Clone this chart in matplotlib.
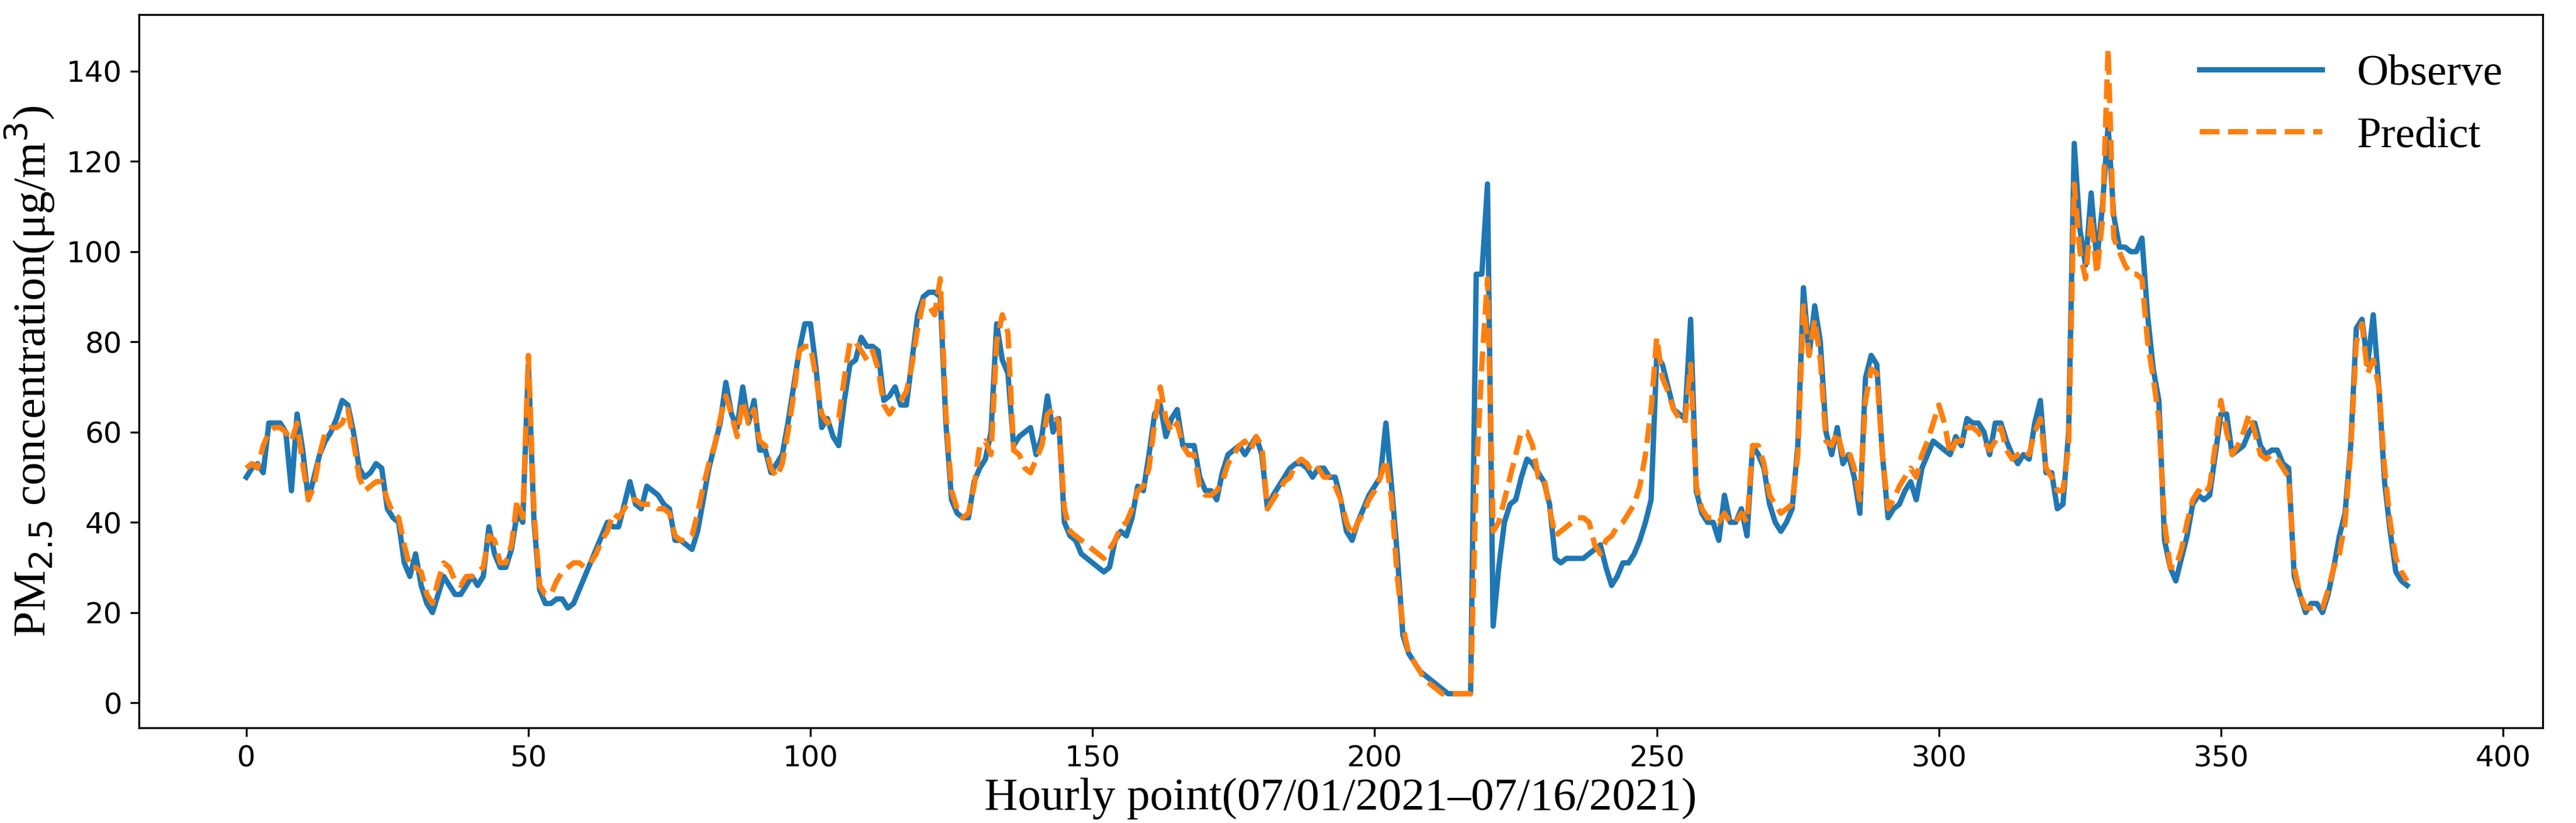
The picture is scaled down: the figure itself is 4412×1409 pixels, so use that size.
import numpy as np
import matplotlib.pyplot as plt

# DATA
observe = [50, 52, 53, 51, 62, 62, 62, 60, 47, 64,
           56, 45, 50, 55, 58, 60, 63, 67, 66, 60,
           52, 50, 51, 53, 52, 43, 41, 40, 31, 28,
           33, 26, 22, 20, 24, 28, 26, 24, 24, 26,
           28, 26, 28, 39, 33, 30, 30, 34, 42, 40,
           75, 40, 25, 22, 22, 23, 23, 21, 22, 25,
           28, 31, 34, 37, 40, 39, 39, 44, 49, 44,
           43, 48, 47, 46, 44, 43, 36, 36, 35, 34,
           38, 45, 52, 57, 62, 71, 64, 61, 70, 62,
           67, 56, 56, 51, 53, 55, 62, 70, 78, 84,
           84, 74, 61, 63, 59, 57, 67, 75, 76, 81,
           79, 79, 78, 67, 68, 70, 66, 66, 76, 86,
           90, 91, 91, 90, 62, 45, 42, 41, 41, 49,
           52, 54, 60, 84, 76, 73, 57, 59, 60, 61,
           55, 59, 68, 60, 63, 40, 37, 36, 33, 32,
           31, 30, 29, 30, 36, 38, 37, 41, 48, 47,
           55, 64, 66, 59, 63, 65, 57, 57, 57, 50,
           47, 47, 45, 51, 55, 56, 57, 55, 57, 59,
           55, 43, 46, 48, 50, 52, 53, 53, 52, 50,
           52, 52, 50, 50, 45, 38, 36, 40, 43, 46,
           48, 50, 62, 48, 33, 15, 11, 9, 7, 6,
           5, 4, 3, 2, 2, 2, 2, 2, 95, 95,
           115, 17, 30, 40, 44, 45, 50, 54, 53, 51,
           49, 44, 32, 31, 32, 32, 32, 32, 33, 34,
           35, 30, 26, 28, 31, 31, 33, 36, 40, 45,
           77, 75, 70, 65, 64, 63, 85, 47, 42, 40,
           40, 36, 46, 40, 40, 43, 37, 57, 55, 52,
           44, 40, 38, 40, 43, 57, 92, 77, 88, 80,
           60, 55, 61, 53, 55, 50, 42, 72, 77, 75,
           55, 41, 43, 44, 47, 49, 45, 52, 55, 58,
           57, 56, 55, 59, 57, 63, 62, 62, 60, 55,
           62, 62, 58, 55, 53, 55, 54, 62, 67, 51,
           51, 43, 44, 60, 124, 105, 97, 113, 98, 110,
           128, 108, 101, 101, 100, 100, 103, 86, 74, 67,
           36, 30, 27, 32, 37, 44, 46, 45, 46, 55,
           64, 64, 55, 56, 57, 60, 62, 57, 55, 56,
           56, 53, 52, 28, 24, 20, 22, 22, 20, 24,
           30, 37, 42, 57, 83, 85, 75, 86, 70, 49,
           38, 29, 27, 26]

predict = [52, 53, 52, 57, 60, 61, 61, 60, 58, 62,
           53, 45, 48, 55, 60, 61, 61, 62, 65, 58,
           50, 47, 48, 49, 49, 45, 42, 41, 35, 30,
           30, 29, 24, 22, 27, 31, 30, 27, 26, 28,
           28, 29, 30, 37, 36, 31, 31, 35, 45, 41,
           77, 42, 26, 24, 24, 27, 29, 30, 31, 31,
           30, 31, 33, 36, 38, 42, 41, 43, 45, 45,
           44, 44, 44, 43, 43, 42, 37, 36, 36, 37,
           42, 48, 53, 57, 63, 68, 64, 59, 67, 62,
           65, 58, 57, 52, 50, 53, 60, 68, 78, 79,
           79, 72, 64, 62, 63, 63, 72, 80, 80, 78,
           76, 78, 74, 66, 64, 66, 67, 69, 75, 83,
           89, 88, 86, 94, 64, 47, 43, 41, 42, 48,
           57, 58, 55, 80, 86, 82, 56, 55, 52, 51,
           54, 57, 64, 65, 62, 43, 38, 37, 36, 35,
           34, 33, 32, 34, 36, 39, 40, 43, 47, 48,
           52, 62, 70, 63, 60, 62, 57, 55, 55, 48,
           46, 46, 47, 49, 53, 55, 57, 58, 56, 59,
           57, 43, 45, 47, 49, 50, 53, 54, 53, 51,
           52, 50, 50, 48, 45, 40, 37, 40, 42, 45,
           47, 50, 54, 45, 28, 17, 11, 9, 7, 5,
           4, 3, 2, 2, 2, 2, 2, 2, 50, 75,
           94, 38, 40, 45, 50, 55, 60, 60, 57, 50,
           50, 43, 37, 38, 39, 40, 41, 41, 40, 35,
           33, 36, 37, 39, 40, 42, 44, 48, 55, 65,
           81, 72, 69, 65, 63, 62, 75, 48, 43, 41,
           41, 40, 42, 40, 40, 42, 40, 57, 57, 53,
           46, 44, 42, 43, 44, 55, 88, 77, 85, 76,
           58, 57, 60, 55, 56, 52, 45, 67, 74, 73,
           55, 43, 45, 48, 50, 52, 50, 55, 58, 62,
           66, 62, 55, 58, 58, 61, 61, 60, 58, 56,
           58, 61, 56, 54, 55, 56, 55, 60, 63, 52,
           50, 47, 47, 57, 115, 100, 94, 108, 95, 107,
           145, 103, 100, 97, 95, 95, 94, 80, 72, 63,
           40, 30, 30, 34, 40, 45, 47, 46, 48, 57,
           67, 60, 55, 57, 60, 64, 60, 55, 54, 55,
           54, 52, 50, 30, 24, 21, 21, 21, 21, 25,
           30, 33, 40, 56, 80, 84, 73, 76, 70, 52,
           40, 32, 29, 27]

serif = ['Liberation Serif', 'DejaVu Serif']

fig = plt.figure(figsize=(4412 / 300, 1409 / 300), dpi=300)
ax = fig.add_axes([0.054, 0.116, 0.933, 0.866])
ax.plot(np.arange(len(observe)), observe, color='#1f77b4', lw=2.2, label='Observe')
ax.plot(np.arange(len(predict)), predict, color='#ff7f0e', lw=2.2, ls='--', label='Predict')
ax.set_xlim(-19, 407)
ax.set_ylim(-5.5, 152.5)
ax.set_yticks(range(0, 141, 20))
ax.tick_params(labelsize=12)
ax.set_xlabel('Hourly point(07/01/2021\u201307/16/2021)', fontsize=19, family=serif, labelpad=2)
ax.set_ylabel('PM$_{2.5}$ concentration(\u03bcg/m$^3$)', fontsize=19, family=serif, labelpad=4)
plt.rcParams['mathtext.fontset'] = 'custom'
plt.rcParams['mathtext.rm'] = 'Liberation Serif'
ax.legend(loc='upper right', frameon=False, prop={'family': serif, 'size': 18},
          handlelength=2.8)
fig.savefig('out.png', dpi=300)
